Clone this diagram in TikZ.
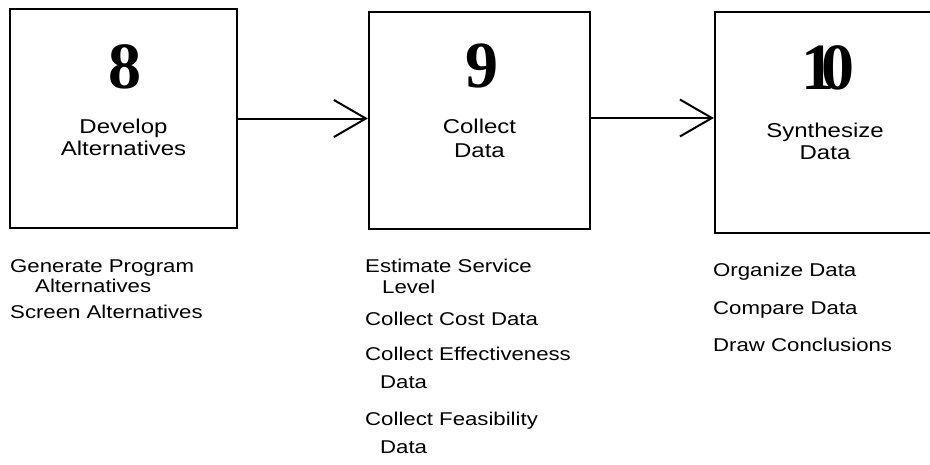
\documentclass[tikz,border=0pt]{standalone}
\usepackage{fontspec}
\setmainfont{Liberation Sans}
\newfontfamily\sansw{Liberation Sans}[FakeStretch=1.2]
\newfontfamily\numfont{Liberation Serif}
\usetikzlibrary{arrows.meta}
\tikzset{
  box/.style={draw=black, line width=2.2pt, inner sep=0pt, fill=none},
  digit/.style={anchor=base, inner sep=0pt, font=\numfont\bfseries\fontsize{66}{66}\selectfont},
  lbl/.style={anchor=base, inner sep=0pt, font=\sansw\fontsize{20}{20}\selectfont},
  item/.style={anchor=base west, inner sep=0pt, font=\sansw\fontsize{18.5}{18.5}\selectfont},
  arr/.style={draw=black, line width=2pt, -{Straight Barb[length=32pt,width=37pt,line width=2pt]}},
}
\begin{document}
\begin{tikzpicture}[x=1pt,y=-1pt]
\clip (0,0) rectangle (930,464);
\path[fill=white] (0,0) rectangle (930,464);
% boxes
\node[box, minimum width=227pt, minimum height=219pt] (b1) at (123.5,118.5) {};
\node[box, minimum width=221pt, minimum height=217pt] (b2) at (479.5,120.5) {};
\node[box, minimum width=220pt, minimum height=221pt] (b3) at (825,122.5) {};
% numbers
\node[digit] (n8) at (125,88) {8};
\node[digit] (n9) at (482,87) {9};
\node[digit] (n10) at (828,89) {1\kern-0.2em 0};
% box labels
\node[lbl] (d1) at (123.5,133) {Develop};
\node[lbl] (d2) at (123.5,155) {Alternatives};
\node[lbl] (c1) at (479.5,133) {Collect};
\node[lbl] (c2) at (479.5,157) {Data};
\node[lbl] (s1) at (825,137) {Synthesize};
\node[lbl] (s2) at (825,159) {Data};
% arrows
\draw[arr] (b1.east) -- (b1.east -| b2.west);
\coordinate (a2s) at ([yshift=2.5pt]b2.east);
\draw[arr] (a2s) -- (a2s -| b3.west);
% lists
\node[item] (g1) at (10,272) {Generate Program};
\node[item] (g2) at (35,292) {Alternatives};
\node[item] (g3) at (10,318) {Screen Alternatives};
\node[item] (e1) at (365,272) {Estimate Service};
\node[item] (e2) at (382,293) {Level};
\node[item] (e3) at (365,325) {Collect Cost Data};
\node[item] (e4) at (365,360) {Collect Effectiveness};
\node[item] (e5) at (380,388) {Data};
\node[item] (e6) at (365,425) {Collect Feasibility};
\node[item] (e7) at (380,453) {Data};
\node[item] (o1) at (713,276) {Organize Data};
\node[item] (o2) at (713,314) {Compare Data};
\node[item] (o3) at (713,351) {Draw Conclusions};
\end{tikzpicture}
\end{document}
